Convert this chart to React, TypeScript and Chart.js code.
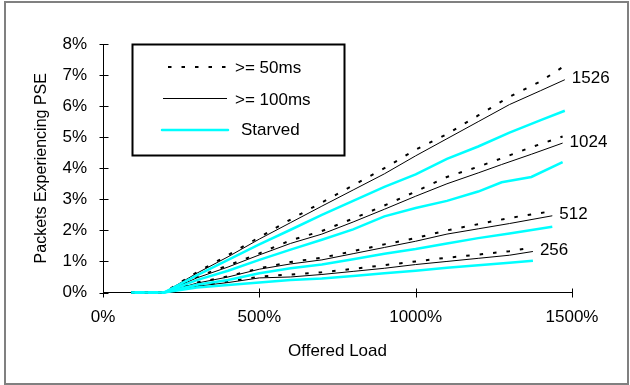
import React, { useEffect, useRef } from "react";
import { Chart, registerables } from "chart.js";

Chart.register(...registerables);

const FONT = '"Liberation Sans", Arial, sans-serif';

// Offered load (%) per packet-size group
const loads1526 = [90, 195, 300, 400, 500, 600, 700, 800, 900, 1000, 1100, 1200, 1300, 1400, 1477];
const loads1024 = [90, 195, 300, 400, 500, 600, 700, 800, 900, 1000, 1100, 1200, 1275, 1370, 1470];
const loads512 = [90, 195, 300, 400, 500, 600, 700, 800, 900, 1000, 1100, 1200, 1300, 1437];
const loads256 = [90, 195, 300, 400, 500, 600, 700, 800, 900, 1000, 1100, 1200, 1300, 1375];

// Packets experiencing PSE (%)
const ge50_1526 = [0, 0, 0.65, 1.2, 1.78, 2.35, 2.9, 3.45, 4.0, 4.6, 5.1, 5.7, 6.3, 6.8, 7.3];
const ge100_1526 = [0, 0, 0.62, 1.15, 1.72, 2.25, 2.78, 3.3, 3.82, 4.4, 4.95, 5.5, 6.05, 6.5, 6.85];
const starved_1526 = [0, 0, 0.55, 1.05, 1.55, 2.02, 2.5, 2.95, 3.4, 3.8, 4.3, 4.7, 5.15, 5.55, 5.85];

const ge50_1024 = [0, 0, 0.5, 0.87, 1.26, 1.68, 1.98, 2.38, 2.8, 3.25, 3.72, 4.05, 4.32, 4.68, 5.02];
const ge100_1024 = [0, 0, 0.47, 0.82, 1.21, 1.58, 1.88, 2.27, 2.68, 3.1, 3.5, 3.85, 4.12, 4.45, 4.81];
const starved_1024 = [0, 0, 0.4, 0.7, 1.05, 1.38, 1.7, 2.03, 2.45, 2.72, 2.95, 3.25, 3.55, 3.72, 4.2];

const ge50_512 = [0, 0, 0.32, 0.52, 0.78, 0.98, 1.12, 1.33, 1.55, 1.75, 2.0, 2.2, 2.4, 2.62];
const ge100_512 = [0, 0, 0.3, 0.5, 0.75, 0.92, 1.05, 1.25, 1.45, 1.65, 1.88, 2.05, 2.22, 2.47];
const starved_512 = [0, 0, 0.25, 0.4, 0.62, 0.78, 0.9, 1.07, 1.25, 1.4, 1.58, 1.75, 1.9, 2.12];

const ge50_256 = [0, 0, 0.22, 0.35, 0.51, 0.58, 0.65, 0.76, 0.88, 1.0, 1.12, 1.22, 1.33, 1.45];
const ge100_256 = [0, 0, 0.2, 0.32, 0.47, 0.5, 0.58, 0.68, 0.78, 0.9, 1.0, 1.1, 1.2, 1.32];
const starved_256 = [0, 0, 0.16, 0.24, 0.32, 0.4, 0.45, 0.53, 0.62, 0.7, 0.8, 0.88, 0.96, 1.02];

const groupLabels = ["1526", "1024", "512", "256"];
const legendLabels = [">= 50ms", ">= 100ms", "Starved"];
const xTickValues = [0, 500, 1000, 1500];
const yTickValues = [0, 1, 2, 3, 4, 5, 6, 7, 8];

const groups = [
  { label: groupLabels[0], loads: loads1526, series: [ge50_1526, ge100_1526, starved_1526] },
  { label: groupLabels[1], loads: loads1024, series: [ge50_1024, ge100_1024, starved_1024] },
  { label: groupLabels[2], loads: loads512, series: [ge50_512, ge100_512, starved_512] },
  { label: groupLabels[3], loads: loads256, series: [ge50_256, ge100_256, starved_256] },
];

const styles = [
  { borderColor: "#000000", borderWidth: 2, borderDash: [3.5, 10] },
  { borderColor: "#000000", borderWidth: 1, borderDash: [] as number[] },
  { borderColor: "#00FFFF", borderWidth: 2.5, borderDash: [] as number[] },
];

export default function App() {
  const ref = useRef<HTMLCanvasElement>(null);

  useEffect(() => {
    if (!ref.current) return;
    const datasets: any[] = [];
    // draw starved first so black lines sit on top
    const order = [2, 1, 0];
    groups.forEach((g) => {
      order.forEach((si) => {
        datasets.push({
          label: `${g.label} ${legendLabels[si]}`,
          data: g.loads.map((x, i) => ({ x, y: g.series[si][i] })),
          borderColor: styles[si].borderColor,
          borderWidth: styles[si].borderWidth,
          borderDash: styles[si].borderDash,
          pointRadius: 0,
          tension: 0,
          fill: false,
          clip: false,
        });
      });
    });

    const deco = {
      id: "deco",
      beforeDraw(chart: any) {
        const ctx = chart.ctx;
        ctx.save();
        ctx.fillStyle = "#ffffff";
        ctx.fillRect(0, 0, chart.width, chart.height);
        ctx.strokeStyle = "#808080";
        ctx.lineWidth = 2;
        ctx.strokeRect(5, 2, 623, 382);
        ctx.restore();
      },
      afterDraw(chart: any) {
        const ctx = chart.ctx;
        const xs = chart.scales.x;
        const ys = chart.scales.y;
        ctx.save();
        // crossing tick marks
        ctx.strokeStyle = "#000";
        ctx.lineWidth = 1;
        const ax = Math.round(xs.left) + 0.5;
        const ay = Math.round(ys.bottom) + 0.5;
        yTickValues.forEach((v) => {
          const py = Math.round(ys.getPixelForValue(v)) + 0.5;
          ctx.beginPath();
          ctx.moveTo(ax - 4, py);
          ctx.lineTo(ax + 5, py);
          ctx.stroke();
        });
        xTickValues.forEach((v) => {
          const px = Math.round(xs.getPixelForValue(v)) + 0.5;
          ctx.beginPath();
          ctx.moveTo(px, ay - 5);
          ctx.lineTo(px, ay + 4);
          ctx.stroke();
        });

        // group labels at end of the >=100ms lines
        ctx.fillStyle = "#000";
        ctx.font = `17px ${FONT}`;
        ctx.textAlign = "left";
        ctx.textBaseline = "middle";
        groups.forEach((g) => {
          const n = g.loads.length - 1;
          const px = xs.getPixelForValue(g.loads[n]);
          const py = ys.getPixelForValue(g.series[1][n]);
          ctx.fillText(g.label, px + 7, py - 1);
        });

        // legend box
        ctx.lineWidth = 2;
        ctx.strokeStyle = "#000";
        ctx.strokeRect(132.5, 44.5, 212, 111);
        const rows = [67, 98.5, 130];
        const textY = [68, 100, 130];
        const sx = [[168, 232], [163, 227], [162, 228]];
        styles.forEach((s, i) => {
          ctx.beginPath();
          ctx.strokeStyle = s.borderColor;
          ctx.lineWidth = s.borderWidth;
          ctx.setLineDash(s.borderDash);
          ctx.lineCap = i === 2 ? "round" : "butt";
          ctx.moveTo(sx[i][0], rows[i]);
          ctx.lineTo(sx[i][1], rows[i]);
          ctx.stroke();
          ctx.setLineDash([]);
          ctx.fillStyle = "#000";
          ctx.fillText(legendLabels[i], i === 2 ? 241 : 235, textY[i]);
        });
        ctx.restore();
      },
    };

    const chart = new Chart(ref.current, {
      type: "line",
      data: { datasets },
      options: {
        animation: false,
        responsive: false,
        layout: { padding: { left: 0, right: 58, top: 44, bottom: 0 } },
        plugins: { legend: { display: false }, tooltip: { enabled: false } },
        scales: {
          x: {
            type: "linear",
            min: 0,
            max: 1500,
            afterFit: (s: any) => {
              s.height = 92.5;
            },
            afterBuildTicks: (s: any) => {
              s.ticks = xTickValues.map((v) => ({ value: v }));
            },
            ticks: {
              callback: (v: any) => `${v}%`,
              font: { family: FONT, size: 17 },
              color: "#000",
              padding: 15,
              maxRotation: 0,
              autoSkip: false,
            },
            grid: { display: true, drawOnChartArea: false, drawTicks: false },
            border: { display: true, color: "#000", width: 1 },
            title: {
              display: true,
              text: "Offered Load",
              font: { family: FONT, size: 17 },
              color: "#000",
              padding: { top: 0, bottom: 23 },
            },
          },
          y: {
            type: "linear",
            min: 0,
            max: 8,
            afterFit: (s: any) => {
              s.width = 103;
            },
            afterBuildTicks: (s: any) => {
              s.ticks = yTickValues.map((v) => ({ value: v }));
            },
            ticks: {
              callback: (v: any) => `${v}%`,
              font: { family: FONT, size: 17 },
              color: "#000",
              padding: 16,
            },
            grid: { display: true, drawOnChartArea: false, drawTicks: false },
            border: { display: true, color: "#000", width: 1 },
            title: {
              display: true,
              text: "Packets Experiencing PSE",
              font: { family: FONT, size: 16 },
              color: "#000",
              padding: { top: 32, bottom: 0 },
            },
          },
        },
      } as any,
      plugins: [deco],
    });
    return () => chart.destroy();
  }, []);

  return (
    <div style={{ position: "fixed", left: 0, top: 0, width: 630, height: 385 }}>
      <canvas ref={ref} width={630} height={385} style={{ display: "block" }} />
    </div>
  );
}
